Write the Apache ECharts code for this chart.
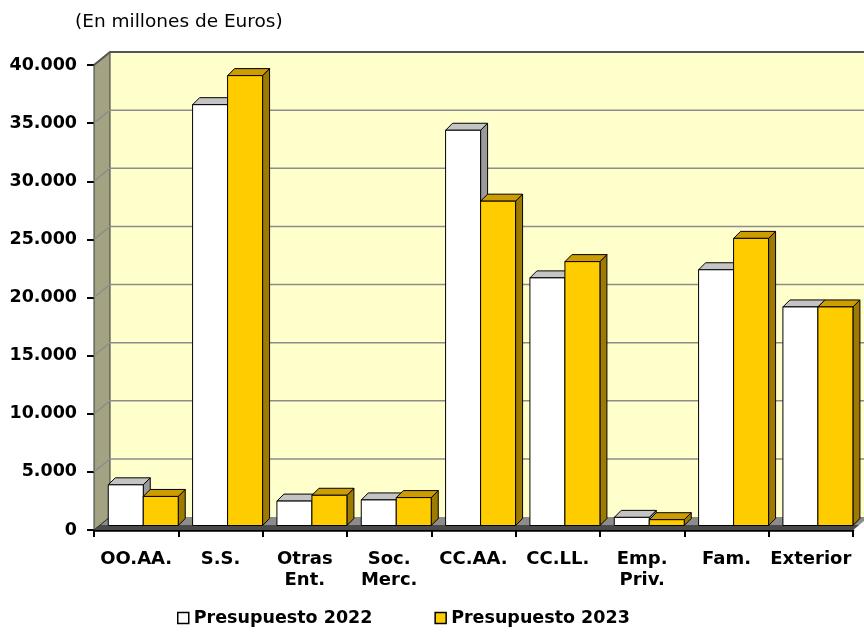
<!DOCTYPE html>
<html>
<head>
<meta charset="utf-8">
<script src="https://cdn.jsdelivr.net/npm/echarts@6/dist/echarts.min.js"></script>
<style>
  html, body { margin: 0; padding: 0; background: #fff; }
  #chart { width: 864px; height: 633px; }
</style>
</head>
<body>
<div id="chart"></div>
<script>
// data (millones de euros)
const categories = ['OO.AA.', 'S.S.', 'Otras\nEnt.', 'Soc.\nMerc.', 'CC.AA.', 'CC.LL.', 'Emp.\nPriv.', 'Fam.', 'Exterior'];
const presupuesto2022 = [3500, 36200, 2100, 2200, 34000, 21300, 700, 22000, 18800];
const presupuesto2023 = [2500, 38700, 2600, 2400, 27900, 22700, 500, 24700, 18800];
const yTicks = [5000, 10000, 15000, 20000, 25000, 30000, 35000, 40000];
const seriesNames = ['Presupuesto 2022', 'Presupuesto 2023'];

const FONT = 'DejaVu Sans';
// depth of the walls, offset of the bars, depth of the bars (px)
const WX = 16, WY = 13;
const FX = 7, FY = 4.5;
const BX = 7, BY = 7;

const barColors = [
    { front: '#FFFFFF', top: '#C4C4C4', side: '#9A9A9A' },
    { front: '#FFCC00', top: '#CC9C00', side: '#9E7A00' }
];

function renderWalls(params, api) {
    const cs = params.coordSys;
    const x = cs.x, y = cs.y, w = cs.width, h = cs.height;
    const kids = [];
    // back wall
    kids.push({ type: 'polygon', shape: { points: [[x + WX, y - WY], [x + w + WX, y - WY], [x + w + WX, y + h - WY], [x + WX, y + h - WY]] },
        style: { fill: '#FFFFCC' } });
    // left wall
    kids.push({ type: 'polygon', shape: { points: [[x, y], [x + WX, y - WY], [x + WX, y + h - WY], [x, y + h]] },
        style: { fill: '#A3A383', stroke: '#3a3a3a', lineWidth: 1 } });
    // grid lines on the walls
    yTicks.forEach(function (v) {
        const py = api.coord([0, v])[1];
        const top = v === yTicks[yTicks.length - 1];
        kids.push({ type: 'polyline', shape: { points: [[x, py], [x + WX, py - WY], [x + w + WX, py - WY]] },
            style: { stroke: top ? '#555' : '#8c8c8c', lineWidth: top ? 2 : 1.5, fill: null } });
    });
    // floor
    const fy = y + h;
    kids.push({ type: 'polygon', shape: { points: [[x, fy], [x + w, fy], [x + w + WX, fy - WY], [x + WX, fy - WY]] },
        style: { fill: '#8C8C8C' } });
    kids.push({ type: 'polygon', shape: { points: [[x, fy], [x + w, fy], [x + w + 6, fy - 5], [x + 6, fy - 5]] },
        style: { fill: '#4A4A4A' } });
    kids.push({ type: 'line', shape: { x1: x, y1: fy, x2: x + WX, y2: fy - WY }, style: { stroke: '#333', lineWidth: 1 } });
    return { type: 'group', children: kids };
}

function barRenderer(k) {
    const col = barColors[k];
    return function (params, api) {
        const c = api.value(0);
        const b = api.coord([c, 0]);
        const t = api.coord([c, api.value(1)]);
        const bw = api.size([1, 0])[0];
        const x0 = b[0] - bw / 2 + bw * 0.086 + k * bw * 0.415 + FX;
        const x1 = x0 + bw * 0.415;
        const yb = b[1] - FY;
        const yt = t[1] - FY;
        const line = { stroke: '#000', lineWidth: 1, lineJoin: 'round' };
        return {
            type: 'group',
            children: [
                { type: 'polygon', shape: { points: [[x1, yt], [x1 + BX, yt - BY], [x1 + BX, yb - BY], [x1, yb]] },
                  style: Object.assign({ fill: col.side }, line) },
                { type: 'polygon', shape: { points: [[x0, yt], [x0 + BX, yt - BY], [x1 + BX, yt - BY], [x1, yt]] },
                  style: Object.assign({ fill: col.top }, line) },
                { type: 'rect', shape: { x: x0, y: yt, width: x1 - x0, height: yb - yt },
                  style: Object.assign({ fill: col.front }, line) }
            ]
        };
    };
}

const chart = echarts.init(document.getElementById('chart'));
const option = {
    backgroundColor: '#fff',
    animation: false,
    title: {
        text: '(En millones de Euros)',
        left: 70,
        top: 8,
        textStyle: { fontFamily: FONT, fontSize: 18.5, fontWeight: 'normal', color: '#000' }
    },
    legend: {
        data: [
            { name: seriesNames[0], itemStyle: { color: '#FFFFFF', borderColor: '#000', borderWidth: 1.5 } },
            { name: seriesNames[1], itemStyle: { color: '#FFCC00', borderColor: '#000', borderWidth: 1.5 } }
        ],
        icon: 'rect',
        itemWidth: 11,
        itemHeight: 11,
        itemGap: 62,
        left: 172,
        top: 604,
        textStyle: { fontFamily: FONT, fontSize: 17.5, fontWeight: 'bold', color: '#000' }
    },
    grid: { left: 94, right: 11, top: 65, bottom: 103 },
    xAxis: {
        type: 'category',
        data: categories,
        axisLine: { lineStyle: { color: '#000', width: 2.5 } },
        axisTick: { show: true, length: 7, lineStyle: { color: '#000', width: 2 } },
        axisLabel: { fontFamily: FONT, fontSize: 18, fontWeight: 'bold', color: '#000', lineHeight: 21, margin: 19, interval: 0 },
        splitLine: { show: false }
    },
    yAxis: {
        type: 'value',
        min: 0,
        max: 40000,
        interval: 5000,
        axisLine: { show: true, lineStyle: { color: '#333', width: 1 } },
        axisTick: { show: true, length: 7, lineStyle: { color: '#000', width: 2 } },
        axisLabel: {
            fontFamily: FONT, fontSize: 17.5, fontWeight: 'bold', color: '#000', margin: 17,
            formatter: function (v) { return v === 0 ? '0' : v.toLocaleString('de-DE'); }
        },
        splitLine: { show: false }
    },
    series: [
        { name: 'walls', type: 'custom', renderItem: renderWalls, data: [[0, 0]], z: 1, silent: true, clip: false },
        { name: seriesNames[0], type: 'custom', renderItem: barRenderer(0), z: 2, clip: false,
          itemStyle: { color: '#FFFFFF', borderColor: '#000' },
          data: presupuesto2022.map(function (v, i) { return [i, v]; }) },
        { name: seriesNames[1], type: 'custom', renderItem: barRenderer(1), z: 2, clip: false,
          itemStyle: { color: '#FFCC00', borderColor: '#000' },
          data: presupuesto2023.map(function (v, i) { return [i, v]; }) }
    ]
};
chart.setOption(option);
</script>
</body>
</html>
